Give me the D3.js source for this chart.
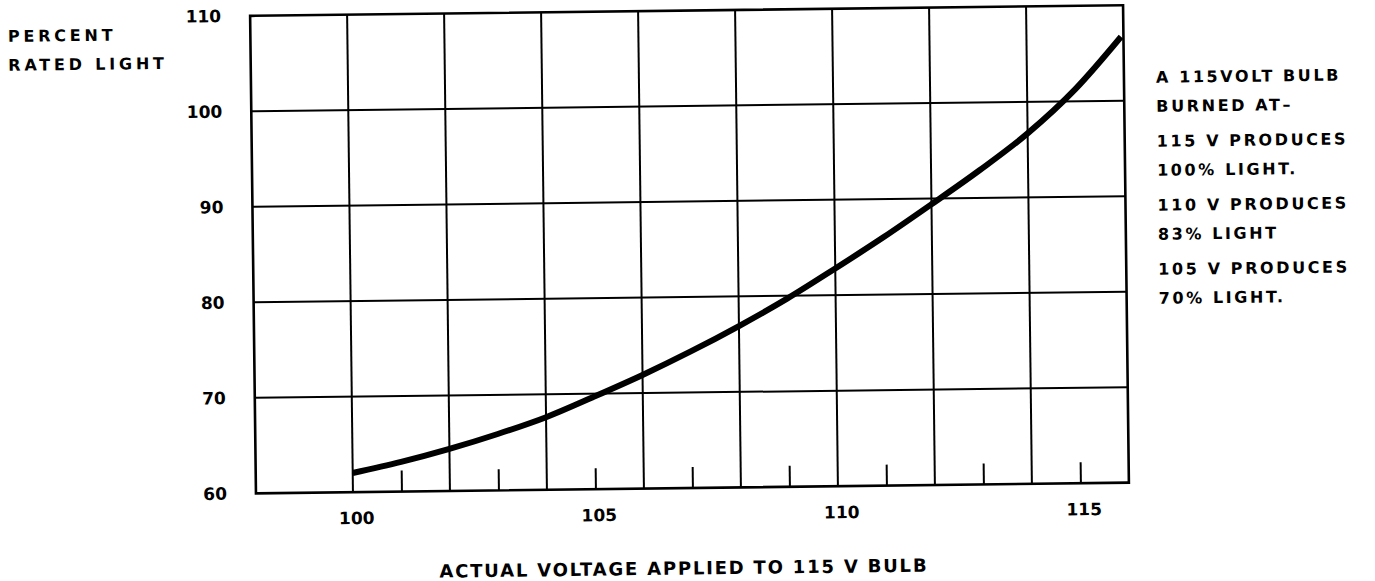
<!DOCTYPE html>
<html>
<head>
<meta charset="utf-8">
<script src="https://cdn.jsdelivr.net/npm/d3@7"></script>
<style>
  body { margin: 0; background: #fff; }
  svg text { font-family: "DejaVu Sans", sans-serif; font-weight: 700; fill: #000; }
</style>
</head>
<body>
<div id="chart"></div>
<script>
// values
const voltage = [100, 101, 102, 103, 104, 105, 106, 107, 108, 109, 110, 111, 112, 113, 114, 115, 115.95];
const light   = [62.0, 63.1, 64.4, 65.9, 67.6, 69.7, 71.9, 74.3, 76.9, 79.7, 82.8, 86.0, 89.4, 92.9, 96.7, 101.3, 106.7];

const gridVolts  = [100, 102, 104, 106, 108, 110, 112, 114];
const minorVolts = [101, 103, 105, 107, 109, 111, 113, 115];
const voltLabels = [100, 105, 110, 115];
const lightTicks = [60, 70, 80, 90, 100, 110];
const gridLight  = [70, 80, 90, 100];

const yTitle = ["PERCENT", "RATED LIGHT"];
const xTitle = "ACTUAL VOLTAGE APPLIED TO 115 V BULB";
const notes = [
  ["A 115VOLT BULB", "BURNED AT\u2013"],
  ["115 V PRODUCES", "100% LIGHT."],
  ["110 V PRODUCES", "83% LIGHT"],
  ["105 V PRODUCES", "70% LIGHT."]
];

const width = 1375, height = 581;
const margin = {top: 10.5, right: 249, bottom: 93, left: 253};

let svg = d3.select("#chart")
    .append("svg")
    .attr("width", width)
    .attr("height", height);

// the scan is tilted a little, so the whole drawing is turned to match
let page = svg.append("g")
    .attr("transform", "rotate(-0.7, 690, 249)");

let x = d3.scaleLinear()
    .domain([98, 116])
    .range([margin.left, width - margin.right]);

let y = d3.scaleLinear()
    .domain([60, 110])
    .range([height - margin.bottom, margin.top]);

// grid
page.append("g").selectAll("line")
    .data(gridVolts)
    .join("line")
    .attr("x1", d => x(d)).attr("x2", d => x(d))
    .attr("y1", y(110)).attr("y2", y(60))
    .attr("stroke", "#000").attr("stroke-width", 2);

page.append("g").selectAll("line")
    .data(gridLight)
    .join("line")
    .attr("x1", x(98)).attr("x2", x(116))
    .attr("y1", d => y(d)).attr("y2", d => y(d))
    .attr("stroke", "#000").attr("stroke-width", 2);

page.append("rect")
    .attr("x", x(98)).attr("y", y(110))
    .attr("width", x(116) - x(98)).attr("height", y(60) - y(110))
    .attr("fill", "none").attr("stroke", "#000").attr("stroke-width", 2.6);

// short ticks on odd volts, pointing up from the base
let minorAxis = page.append("g")
    .attr("transform", `translate(0, ${y(60)})`)
    .call(d3.axisBottom(x).tickValues(minorVolts).tickSize(-21).tickFormat(""));
minorAxis.select(".domain").remove();
minorAxis.selectAll("line").attr("stroke", "#000").attr("stroke-width", 2);

// x labels
let xAxis = page.append("g")
    .attr("transform", `translate(3, ${y(60)})`)
    .call(d3.axisBottom(x).tickValues(voltLabels).tickSize(0).tickPadding(20).tickFormat(d3.format("d")));
xAxis.select(".domain").remove();
xAxis.selectAll("text").style("font-size", "17px").style("letter-spacing", "0px").attr("fill", "#000");

// y labels
let yAxis = page.append("g")
    .attr("transform", `translate(${x(98)}, 0)`)
    .call(d3.axisLeft(y).tickValues(lightTicks).tickSize(0).tickPadding(29).tickFormat(d3.format("d")));
yAxis.select(".domain").remove();
yAxis.selectAll("text").style("font-size", "17px").style("letter-spacing", "0px").attr("fill", "#000");

// curve
let pts = voltage.map((v, i) => [v, light[i]]);
page.append("path")
    .datum(pts)
    .attr("fill", "none")
    .attr("stroke", "#000")
    .attr("stroke-width", 6)
    .attr("d", d3.line().x(d => x(d[0])).y(d => y(d[1])).curve(d3.curveMonotoneX));

// y title, top left
page.append("g").selectAll("text")
    .data(yTitle)
    .join("text")
    .attr("x", 10.5)
    .attr("y", (d, i) => 33.5 + i * 29)
    .style("font-size", "16px")
    .style("letter-spacing", "3.8px")
    .text(d => d);

// x title
page.append("text")
    .attr("x", 680)
    .attr("y", 574.5)
    .attr("text-anchor", "middle")
    .style("font-size", "18px")
    .style("letter-spacing", "1.8px")
    .text(xTitle);

// notes at right
let noteG = page.append("g").attr("transform", "translate(1158, 88.5)");
notes.forEach(function(pair, k) {
  pair.forEach(function(line, j) {
    noteG.append("text")
      .attr("x", 0)
      .attr("y", k * 64 + j * 29)
      .style("font-size", "16px")
      .style("letter-spacing", "2.6px")
      .text(line);
  });
});
</script>
</body>
</html>
